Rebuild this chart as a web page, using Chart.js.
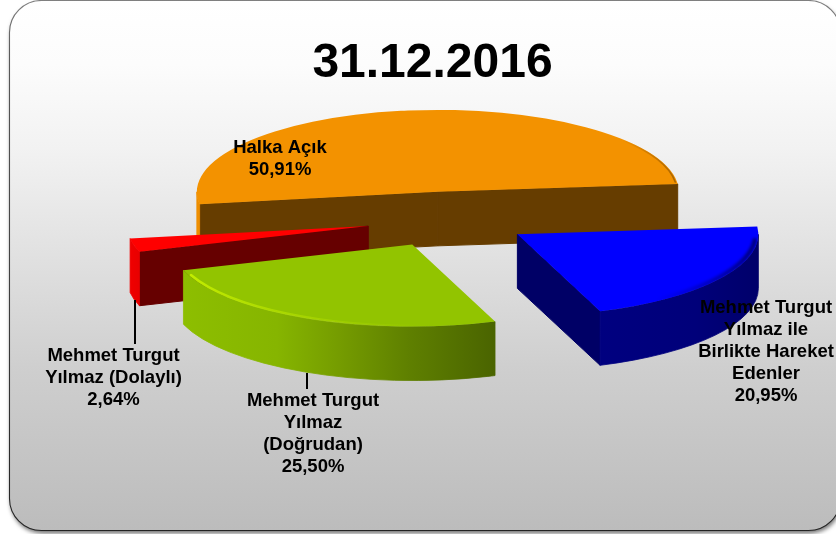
<!DOCTYPE html>
<html lang="tr">
<head>
<meta charset="utf-8">
<style>html,body{margin:0;padding:0;background:#fff}canvas{display:block}</style>
<script src="https://cdn.jsdelivr.net/npm/chart.js@4"></script>
</head>
<body>
<canvas id="c" width="836" height="534"></canvas>
<script>
const titleText = '31.12.2016';
const categories = ['Mehmet Turgut Yılmaz ile Birlikte Hareket Edenler','Mehmet Turgut Yılmaz (Doğrudan)','Mehmet Turgut Yılmaz (Dolaylı)','Halka Açık'];
const shareValues = [20.95, 25.50, 2.64, 50.91];
const valueLabels = ['20,95%','25,50%','2,64%','50,91%'];
const labelLines = [
  ['Mehmet Turgut','Yılmaz ile','Birlikte Hareket','Edenler','20,95%'],
  ['Mehmet Turgut','Yılmaz','(Doğrudan)','25,50%'],
  ['Mehmet Turgut','Yılmaz (Dolaylı)','2,64%'],
  ['Halka Açık','50,91%']
];
const labelCenters = [[766,308],[313,401],[113.5,356],[280,148]];
const topColors = ['#0000ff','#92c400','#ff0000','#f39200'];
const cutWallColors = ['#000066','#4a6400','#660000','#663d00'];
const rimWallStops = [
  [[0,'#000080'],[0.6,'#00007a'],[1,'#00006a']],
  [[0,'#8dbe00'],[0.3,'#86b500'],[0.5,'#759c00'],[0.72,'#5f8000'],[1,'#4a6400']],
  [[0,'#f00000'],[1,'#e80000']],
  [[0,'#ee8e00'],[1,'#ee8e00']]
];
const paintOrder = [3,2,1,0];
const K = 0.34, DEPTH = 54, EXPLODE = 82, RADIUS = 241;

function geom(el){
  const p = el.getProps(['x','y','startAngle','endAngle','outerRadius'], true);
  const mid = (p.startAngle + p.endAngle) / 2;
  return {s:p.startAngle, e:p.endAngle, r:p.outerRadius, cx:p.x, cy:p.y,
    ax:p.x + Math.cos(mid)*EXPLODE, ay:p.y + Math.sin(mid)*EXPLODE*K};
}
function cutWall(ctx,g,ang,color){
  const ex=g.ax+Math.cos(ang)*g.r, ey=g.ay+Math.sin(ang)*g.r*K;
  ctx.fillStyle=color;ctx.strokeStyle=color;ctx.lineWidth=1;ctx.beginPath();
  ctx.moveTo(g.ax,g.ay);ctx.lineTo(ex,ey);ctx.lineTo(ex,ey+DEPTH);ctx.lineTo(g.ax,g.ay+DEPTH);ctx.closePath();ctx.fill();ctx.stroke();
}
function rimWall(ctx,g,stops){
  const T=Math.PI*2;
  for(let n=-1;n<=1;n++){
    const a0=Math.max(g.s,n*T), a1=Math.min(g.e,n*T+Math.PI);
    if(a1<=a0) continue;
    const xL=Math.min(g.ax+g.r*Math.cos(a0),g.ax+g.r*Math.cos(a1));
    const xR=Math.max(g.ax+g.r*Math.cos(a0),g.ax+g.r*Math.cos(a1),(a0<=n*T?g.ax+g.r:-1e9));
    const gr=ctx.createLinearGradient(xL,0,xR,0);
    stops.forEach(s=>gr.addColorStop(s[0],s[1]));
    ctx.fillStyle=gr;ctx.strokeStyle=gr;ctx.lineWidth=0.8;ctx.beginPath();
    ctx.ellipse(g.ax,g.ay,g.r,g.r*K,0,a0,a1,false);
    ctx.ellipse(g.ax,g.ay+DEPTH,g.r,g.r*K,0,a1,a0,true);
    ctx.closePath();ctx.fill();ctx.stroke();
  }
}
function rimLine(ctx,g,a0,a1,c0,c1,w,blur){
  const x0=g.ax+g.r*Math.cos(a0),x1=g.ax+g.r*Math.cos(a1);
  const gr=ctx.createLinearGradient(x0,0,x1,0);
  gr.addColorStop(0,c0);gr.addColorStop(1,c1);
  ctx.save();ctx.strokeStyle=gr;ctx.lineWidth=w;ctx.lineCap='round';
  ctx.filter=blur?`blur(${blur}px)`:'none';
  const rr=g.r-w/2-1;
  ctx.beginPath();ctx.ellipse(g.ax,g.ay,rr,rr*K,0,a0,a1,a1<a0);ctx.stroke();ctx.restore();
}
const D=Math.PI/180;
const scene = {
  id:'scene',
  beforeDraw(chart){
    const ctx=chart.ctx;
    ctx.save();
    ctx.fillStyle='#fff';ctx.fillRect(0,0,836,534);
    const x=9.5,y=0.5,w=831,h=530,rad=32;
    const gr=ctx.createLinearGradient(0,y,0,y+h);
    gr.addColorStop(0,'#ffffff');gr.addColorStop(0.12,'#fcfcfc');gr.addColorStop(0.28,'#f2f2f2');
    gr.addColorStop(0.42,'#e6e6e6');gr.addColorStop(0.7,'#cecece');gr.addColorStop(1,'#bcbcbc');
    ctx.beginPath();ctx.roundRect(x,y,w,h,rad);
    ctx.shadowColor='rgba(0,0,0,.55)';ctx.shadowBlur=4;ctx.shadowOffsetX=1;ctx.shadowOffsetY=3;
    ctx.fillStyle=gr;ctx.fill();
    ctx.shadowColor='transparent';
    const sg=ctx.createLinearGradient(0,0,0,534);
    sg.addColorStop(0,'#808080');sg.addColorStop(0.1,'#5a5a5a');sg.addColorStop(1,'#222');
    ctx.strokeStyle=sg;ctx.lineWidth=1.1;ctx.stroke();
    ctx.restore();
  },
  beforeDatasetsDraw(chart){
    const ctx=chart.ctx, arcs=chart.getDatasetMeta(0).data;
    paintOrder.forEach(i=>{
      const el=arcs[i], g=geom(el);
      ctx.save();
      if(Math.sin(g.s-Math.PI/2)>0) cutWall(ctx,g,g.s,cutWallColors[i]);
      if(Math.sin(g.e+Math.PI/2)>0) cutWall(ctx,g,g.e,cutWallColors[i]);
      rimWall(ctx,g,rimWallStops[i]);
      ctx.translate(g.ax,g.ay);ctx.scale(1,K);ctx.translate(-g.cx,-g.cy);
      el.draw(ctx);
      ctx.restore();
      if(i===1) rimLine(ctx,g,158*D,85*D,'#c2ec00','rgba(170,215,0,0)',2.5,0.6);
      if(i===0) rimLine(ctx,g,55*D,4*D,'rgba(0,0,150,0)','#000070',4,1.5);
      if(i===3) rimLine(ctx,g,320*D,353*D,'rgba(170,100,0,0)','#a86400',1.5,0.5);
    });
    return false;
  },
  afterDraw(chart){
    const ctx=chart.ctx;
    ctx.save();
    ctx.strokeStyle='#000';ctx.lineWidth=2;
    ctx.beginPath();ctx.moveTo(135,300);ctx.lineTo(135,344);ctx.moveTo(307,373);ctx.lineTo(307,389);ctx.stroke();
    ctx.fillStyle='#000';ctx.textAlign='center';ctx.textBaseline='middle';
    ctx.font='bold 48px "Liberation Sans"';
    ctx.fillText(titleText,432.5,64);
    ctx.font='bold 18.5px "Liberation Sans"';
    labelLines.forEach((lines,i)=>{
      lines.forEach((t,j)=>ctx.fillText(t,labelCenters[i][0],labelCenters[i][1]+j*21.9));
    });
    ctx.restore();
  }
};
new Chart(document.getElementById('c'),{
  type:'pie',
  data:{labels:categories,datasets:[{data:shareValues,backgroundColor:topColors,borderWidth:0,radius:RADIUS}]},
  options:{
    responsive:false,animation:false,rotation:84.5,
    layout:{padding:{left:60,right:0,top:0,bottom:95}},
    plugins:{legend:{display:false},title:{display:false},tooltip:{enabled:false}}
  },
  plugins:[scene]
});
</script>
</body>
</html>
